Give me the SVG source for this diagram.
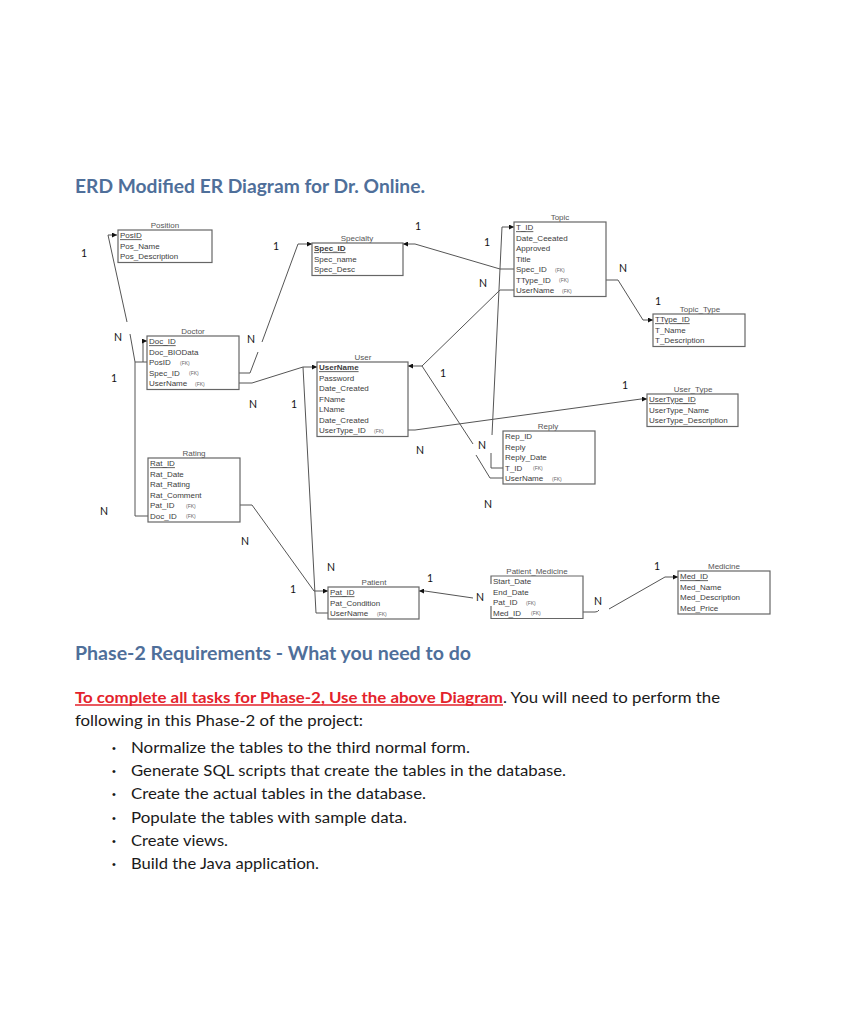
<svg xmlns="http://www.w3.org/2000/svg" width="850" height="1024" viewBox="0 0 850 1024">
<style>
.bg{fill:#ffffff}
.box{fill:#ffffff;stroke:#666;stroke-width:1.2}
.t{font-family:"Liberation Sans",Arial,sans-serif;font-size:8px;fill:#3d3d3d}
.pk{text-decoration:underline}
.b{font-weight:bold}
.ttl{font-family:"Liberation Sans",Arial,sans-serif;font-size:8px;fill:#555;text-anchor:middle}
.fk{font-family:"Liberation Sans",Arial,sans-serif;font-size:5px;fill:#666}
.lbl{font-family:Lato,"Liberation Sans",sans-serif;font-size:10.5px;fill:#111;text-anchor:middle}
.c{fill:none;stroke:#555;stroke-width:1}
.a{marker-end:url(#ar)}
.hd{font-family:Lato,"Liberation Sans",sans-serif;font-weight:bold;fill:#4f6f9a}
.body{font-family:Lato,"Liberation Sans",sans-serif;font-size:14.7px;fill:#1a1a1a}
.bul{font-family:"Liberation Sans",Arial,sans-serif;font-size:11px;fill:#1a1a1a}
</style>
<defs>
<marker id="ar" viewBox="0 0 10 10" refX="10" refY="5" markerWidth="5" markerHeight="5" markerUnits="userSpaceOnUse" orient="auto">
<path d="M0,0 L10,5 L0,10 z" fill="#111"/>
</marker>
</defs>
<rect class="bg" x="0" y="0" width="850" height="1024"/>

<text class="hd" x="75" y="193" font-size="19" textLength="350" lengthAdjust="spacingAndGlyphs">ERD Modified ER Diagram for Dr. Online.</text>

<g id="connectors">
<path class="c" d="M147,362 L135,362 L130,334"/>
<path class="c a" d="M127,322 L108,235 L117,235"/>
<path class="c" d="M148,516 L135,516 L135,362"/>
<path class="c a" d="M143,362 L143,341 L147,341"/>
<path class="c" d="M239,373 L250,373 L258,352"/>
<path class="c a" d="M262,342 L298,244 L312,244"/>
<path class="c a" d="M514,269 L500,269 L415,244 L403,244"/>
<path class="c" d="M503,468 L491,468 L491,453"/>
<path class="c a" d="M492,435 L502,227 L514,227"/>
<path class="c a" d="M514,290 L500,290 L422,366 L408,366"/>
<path class="c" d="M422,366 L473,444"/>
<path class="c" d="M476,455 L490,478 L503,478"/>
<path class="c a" d="M606,280 L618,280 L643,320 L653,320"/>
<path class="c a" d="M239,383 L252,383 L303,367 L317,367"/>
<path class="c" d="M303,367 L316,613 L328,613"/>
<path class="c a" d="M240,505 L252,505 L314,591 L328,591"/>
<path class="c a" d="M408,430 L415,430 L641,399 L647,399"/>
<path class="c a" d="M473,598 L425,591 L419,591"/>
<path class="c" d="M583,612 L595,612 Q598,612 599,610"/>
<path class="c a" d="M609,609 L665,577 L678,577"/>
</g>

<g id="labels">
<text class="lbl" x="84" y="257">1</text>
<text class="lbl" x="418" y="230">1</text>
<text class="lbl" x="276" y="250">1</text>
<text class="lbl" x="487" y="246">1</text>
<text class="lbl" x="623" y="272">N</text>
<text class="lbl" x="483" y="287">N</text>
<text class="lbl" x="658" y="305">1</text>
<text class="lbl" x="118" y="341">N</text>
<text class="lbl" x="251" y="343">N</text>
<text class="lbl" x="114" y="382">1</text>
<text class="lbl" x="443" y="377">1</text>
<text class="lbl" x="253" y="408">N</text>
<text class="lbl" x="294" y="408">1</text>
<text class="lbl" x="625" y="389">1</text>
<text class="lbl" x="420" y="454">N</text>
<text class="lbl" x="482" y="449">N</text>
<text class="lbl" x="488" y="508">N</text>
<text class="lbl" x="104" y="515">N</text>
<text class="lbl" x="245" y="545">N</text>
<text class="lbl" x="331" y="571">N</text>
<text class="lbl" x="430" y="582">1</text>
<text class="lbl" x="657" y="570">1</text>
<text class="lbl" x="293" y="593">1</text>
<text class="lbl" x="480" y="601">N</text>
<text class="lbl" x="598" y="605">N</text>
</g>

<g id="Position">
<text class="ttl" x="165" y="227.5">Position</text>
<rect class="box" x="118" y="230" width="94" height="32.5"/>
<text class="t pk" x="120" y="238.3">PosID</text>
<text class="t" x="120" y="248.8">Pos_Name</text>
<text class="t" x="120" y="259.3">Pos_Description</text>
</g>

<g id="Specialty">
<text class="ttl" x="357" y="240.5">Specialty</text>
<rect class="box" x="312" y="243" width="91" height="32.5"/>
<text class="t pk b" x="314" y="251.3">Spec_ID</text>
<text class="t" x="314" y="261.8">Spec_name</text>
<text class="t" x="314" y="272.3">Spec_Desc</text>
</g>

<g id="Topic">
<text class="ttl" x="560" y="219.5">Topic</text>
<rect class="box" x="514" y="222" width="92" height="74.5"/>
<text class="t pk" x="516" y="230.3">T_ID</text>
<text class="t" x="516" y="240.8">Date_Ceeated</text>
<text class="t" x="516" y="251.3">Approved</text>
<text class="t" x="516" y="261.8">Title</text>
<text class="t" x="516" y="272.3">Spec_ID</text><text class="fk" x="555" y="271.8">(FK)</text>
<text class="t" x="516" y="282.8">TType_ID</text><text class="fk" x="559" y="282.3">(FK)</text>
<text class="t" x="516" y="293.3">UserName</text><text class="fk" x="562" y="292.8">(FK)</text>
</g>

<g id="Topic_Type">
<text class="ttl" x="700" y="311.5">Topic_Type</text>
<rect class="box" x="653" y="314" width="92" height="32.5"/>
<text class="t pk" x="655" y="322.3">TType_ID</text>
<text class="t" x="655" y="332.8">T_Name</text>
<text class="t" x="655" y="343.3">T_Description</text>
</g>

<g id="Doctor">
<text class="ttl" x="193" y="333.5">Doctor</text>
<rect class="box" x="147" y="336" width="92" height="53.5"/>
<text class="t pk" x="149" y="344.3">Doc_ID</text>
<text class="t" x="149" y="354.8">Doc_BIOData</text>
<text class="t" x="149" y="365.3">PosID</text><text class="fk" x="180" y="364.8">(FK)</text>
<text class="t" x="149" y="375.8">Spec_ID</text><text class="fk" x="189" y="375.3">(FK)</text>
<text class="t" x="149" y="386.3">UserName</text><text class="fk" x="195" y="385.8">(FK)</text>
</g>

<g id="User">
<text class="ttl" x="363" y="359.5">User</text>
<rect class="box" x="317" y="362" width="91" height="74.5"/>
<text class="t pk b" x="319" y="370.3">UserName</text>
<text class="t" x="319" y="380.8">Password</text>
<text class="t" x="319" y="391.3">Date_Created</text>
<text class="t" x="319" y="401.8">FName</text>
<text class="t" x="319" y="412.3">LName</text>
<text class="t" x="319" y="422.8">Date_Created</text>
<text class="t" x="319" y="433.3">UserType_ID</text><text class="fk" x="374" y="432.8">(FK)</text>
</g>

<g id="User_Type">
<text class="ttl" x="693" y="391.5">User_Type</text>
<rect class="box" x="647" y="394" width="91" height="32.5"/>
<text class="t pk" x="649" y="402.3">UserType_ID</text>
<text class="t" x="649" y="412.8">UserType_Name</text>
<text class="t" x="649" y="423.3">UserType_Description</text>
</g>

<g id="Reply">
<text class="ttl" x="548" y="428.5">Reply</text>
<rect class="box" x="503" y="431" width="92" height="53"/>
<text class="t" x="505" y="439.3">Rep_ID</text>
<text class="t" x="505" y="449.8">Reply</text>
<text class="t" x="505" y="460.3">Reply_Date</text>
<text class="t" x="505" y="470.8">T_ID</text><text class="fk" x="533" y="470.3">(FK)</text>
<text class="t" x="505" y="481.3">UserName</text><text class="fk" x="552" y="480.8">(FK)</text>
</g>

<g id="Rating">
<text class="ttl" x="194" y="455.5">Rating</text>
<rect class="box" x="148" y="458" width="92" height="64"/>
<text class="t pk" x="150" y="466.3">Rat_ID</text>
<text class="t" x="150" y="476.8">Rat_Date</text>
<text class="t" x="150" y="487.3">Rat_Rating</text>
<text class="t" x="150" y="497.8">Rat_Comment</text>
<text class="t" x="150" y="508.3">Pat_ID</text><text class="fk" x="186" y="507.8">(FK)</text>
<text class="t" x="150" y="518.8">Doc_ID</text><text class="fk" x="186" y="518.3">(FK)</text>
</g>

<g id="Patient">
<text class="ttl" x="374" y="584.5">Patient</text>
<rect class="box" x="328" y="587" width="91" height="32"/>
<text class="t pk" x="330" y="595.3">Pat_ID</text>
<text class="t" x="330" y="605.8">Pat_Condition</text>
<text class="t" x="330" y="616.3">UserName</text><text class="fk" x="377" y="615.8">(FK)</text>
</g>

<g id="Patient_Medicine">
<text class="ttl" x="537" y="573.5">Patient_Medicine</text>
<rect x="491" y="576" width="92" height="42.5" fill="#ffffff"/>
<path d="M491,584 V576 H583 V618.5 H491 V606" fill="none" stroke="#666" stroke-width="1.2"/>
<text class="t" x="493" y="584.3">Start_Date</text>
<text class="t" x="493" y="594.8">End_Date</text>
<text class="t" x="493" y="605.3">Pat_ID</text><text class="fk" x="526" y="604.8">(FK)</text>
<text class="t" x="493" y="615.8">Med_ID</text><text class="fk" x="531" y="615.3">(FK)</text>
</g>

<g id="Medicine">
<text class="ttl" x="724" y="568.5">Medicine</text>
<rect class="box" x="678" y="571" width="92" height="43"/>
<text class="t pk" x="680" y="579.3">Med_ID</text>
<text class="t" x="680" y="589.8">Med_Name</text>
<text class="t" x="680" y="600.3">Med_Description</text>
<text class="t" x="680" y="610.8">Med_Price</text>
</g>

<g id="requirements">
<text class="hd" x="75" y="660" font-size="18.7" fill="#4a6890" textLength="396" lengthAdjust="spacingAndGlyphs">Phase-2 Requirements - What you need to do</text>
<text class="body" x="75" y="702.5" font-weight="bold" style="fill:#e3222b" textLength="428" lengthAdjust="spacingAndGlyphs">To complete all tasks for Phase-2, Use the above Diagram</text>
<line x1="75" y1="705" x2="503" y2="705" stroke="#e3222b" stroke-width="1.3"/>
<text class="body" x="503" y="702.5" textLength="217" lengthAdjust="spacingAndGlyphs">. You will need to perform the</text>
<text class="body" x="75" y="725.5" textLength="288" lengthAdjust="spacingAndGlyphs">following in this Phase-2 of the project:</text>
<text class="bul" x="112" y="751.5">•</text>
<text class="body" x="131" y="752.5" textLength="339" lengthAdjust="spacingAndGlyphs">Normalize the tables to the third normal form.</text>
<text class="bul" x="112" y="774.8">•</text>
<text class="body" x="131" y="775.8" textLength="435" lengthAdjust="spacingAndGlyphs">Generate SQL scripts that create the tables in the database.</text>
<text class="bul" x="112" y="798.2">•</text>
<text class="body" x="131" y="799.2" textLength="295" lengthAdjust="spacingAndGlyphs">Create the actual tables in the database.</text>
<text class="bul" x="112" y="821.5">•</text>
<text class="body" x="131" y="822.5" textLength="276" lengthAdjust="spacingAndGlyphs">Populate the tables with sample data.</text>
<text class="bul" x="112" y="844.8">•</text>
<text class="body" x="131" y="845.8" textLength="97" lengthAdjust="spacingAndGlyphs">Create views.</text>
<text class="bul" x="112" y="868.2">•</text>
<text class="body" x="131" y="869.2" textLength="188" lengthAdjust="spacingAndGlyphs">Build the Java application.</text>
</g>
</svg>
